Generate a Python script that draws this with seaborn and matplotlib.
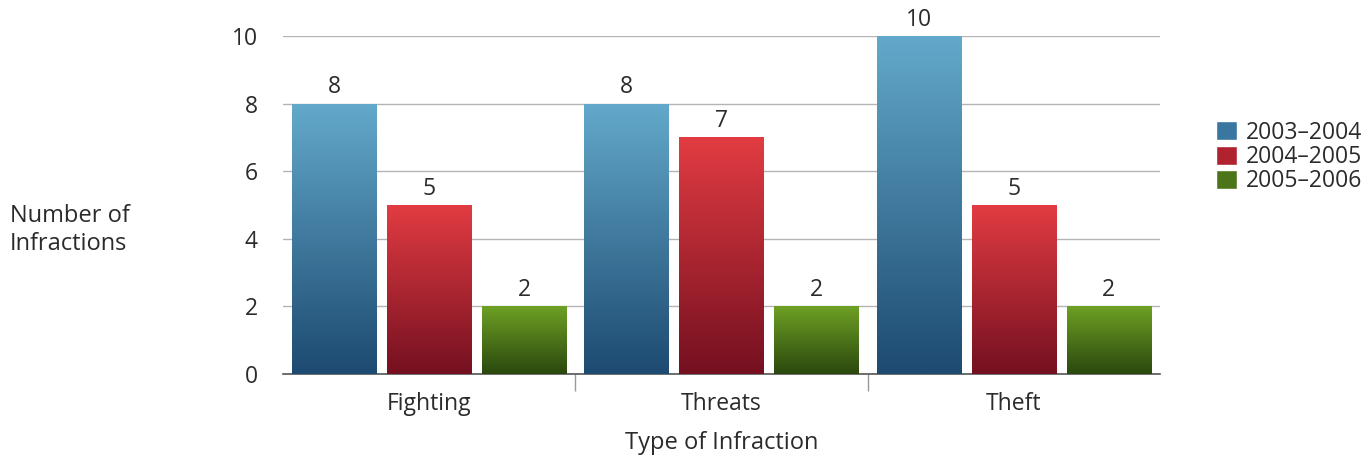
import numpy as np
import pandas as pd
import matplotlib
matplotlib.use("Agg")
import matplotlib.pyplot as plt
import seaborn as sns
from matplotlib.colors import LinearSegmentedColormap

# data
infractions = ["Fighting", "Threats", "Theft"]
years = ["2003\u20132004", "2004\u20132005", "2005\u20132006"]
y2003 = [8, 8, 10]
y2004 = [5, 7, 5]
y2005 = [2, 2, 2]

df = pd.DataFrame({
    "Infraction": infractions * 3,
    "Year": [years[0]] * 3 + [years[1]] * 3 + [years[2]] * 3,
    "Count": y2003 + y2004 + y2005,
})

# (top colour, bottom colour) per series
grads = {
    years[0]: ("#63a9cb", "#1d4a70"),
    years[1]: ("#e23c42", "#741020"),
    years[2]: ("#6ea024", "#2a480e"),
}
mid_cols = ["#3a77a0", "#b0222e", "#4c7418"]

sns.set_style("white")
plt.rcParams["font.family"] = ["Open Sans", "DejaVu Sans"]
txt = "#2b2b2b"
fs = 16.5

fig = plt.figure(figsize=(13.71, 4.57), dpi=100)
ax = fig.add_axes([0.2064, 0.1816, 0.6396, 0.7396])

sns.barplot(data=df, x="Infraction", y="Count", hue="Year", order=infractions,
            hue_order=years, palette=mid_cols, width=0.976, gap=0.116,
            ax=ax, legend=True, zorder=3)

ax.set_xlim(-0.5, 2.5)
ax.set_ylim(0, 10)
ax.set_yticks([0, 2, 4, 6, 8, 10])
ax.grid(axis="y", color="#b4b4b4", linewidth=1, zorder=0)
ax.grid(axis="x", visible=False)
for s in ["top", "right", "left"]:
    ax.spines[s].set_visible(False)
ax.spines["bottom"].set_color("#555555")
ax.spines["bottom"].set_linewidth(1.2)

# gradient fill for each bar
for cont, yr in zip(ax.containers, years):
    top, bot = grads[yr]
    cmap = LinearSegmentedColormap.from_list(yr, [bot, top])
    for p in cont:
        x0, y0 = p.get_x(), p.get_y()
        w, h = p.get_width(), p.get_height()
        grad = np.linspace(0, 1, 256).reshape(-1, 1)
        im = ax.imshow(grad, cmap=cmap, origin="lower", aspect="auto",
                       extent=[x0, x0 + w, y0, y0 + h], zorder=3)
        im.set_clip_path(p)
        p.set_facecolor("none")
        p.set_edgecolor("none")
    ax.bar_label(cont, padding=3, fontsize=fs, color=txt)

ax.set_xlim(-0.5, 2.5)
ax.set_ylim(0, 10)

ax.tick_params(axis="y", length=0, pad=18, labelsize=fs, labelcolor=txt)
ax.tick_params(axis="x", length=0, pad=13, labelsize=fs, labelcolor=txt)
ax.set_xticks([0.5, 1.5], minor=True)
ax.tick_params(axis="x", which="minor", bottom=True, length=12, width=1,
               color="#999999", direction="out")

ax.set_xlabel("Type of Infraction", fontsize=17, color=txt, labelpad=11)
ax.set_ylabel("")
fig.text(0.007, 0.497, "Number of\nInfractions", fontsize=17, color=txt,
         ha="left", va="center", linespacing=1.2)

handles, labels = ax.get_legend_handles_labels()
for h, c in zip(handles, mid_cols):
    h.set_facecolor(c)
leg = ax.legend(handles, labels, loc="center left", bbox_to_anchor=(1.041, 0.642),
                frameon=False, fontsize=fs, handlelength=0.9, handleheight=0.9,
                handletextpad=0.4, labelspacing=0.02, labelcolor=txt)

fig.savefig("out.png", dpi=100)
